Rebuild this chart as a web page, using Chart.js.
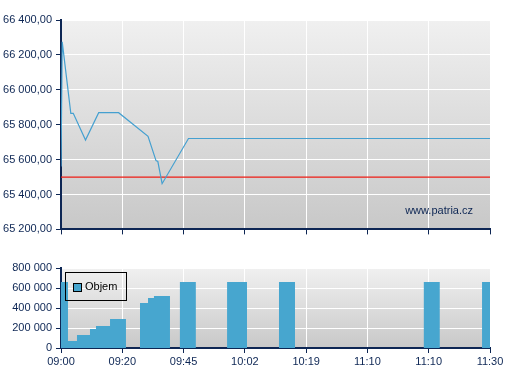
<!DOCTYPE html>
<html>
<head>
<meta charset="UTF-8">
<script src="https://cdn.jsdelivr.net/npm/chart.js"></script>
<style>
  body { margin: 0; background: #fff; }
  #wrap { position: relative; width: 507px; height: 380px; }
  #top { position: absolute; left: 0; top: 0; }
  #bottom { position: absolute; left: 0; top: 255px; }
</style>
</head>
<body>
<div id="wrap">
  <div id="top" style="width:507px;height:240px"><canvas id="priceChart"></canvas></div>
  <div id="bottom" style="width:507px;height:125px"><canvas id="volChart"></canvas></div>
</div>
<script>
// tick labels along the time axis (evenly spaced)
const xLabels = ['09:00', '09:20', '09:45', '10:02', '10:19', '11:10', '11:10', '11:30'];

// price line
const priceX = [0, 0.02, 0.16, 0.20, 0.40, 0.615, 0.94, 1.42, 1.55, 1.58, 1.65, 2.08, 7];
const priceY = [65560, 66275, 65865, 65865, 65712, 65869, 65869, 65733, 65594, 65589, 65462, 65721, 65721];
const prevClose = 65500;

// volume bars (start, end on the time axis)
const volStart = [0, 0.114, 0.261, 0.473, 0.571, 0.80, 1.289, 1.42, 1.517, 1.94, 2.71, 3.557, 5.92, 6.87];
const volEnd = [0.114, 0.261, 0.473, 0.571, 0.80, 1.06, 1.42, 1.517, 1.778, 2.20, 3.035, 3.818, 6.18, 7];
const volume = [660000, 70000, 130000, 190000, 220000, 290000, 450000, 500000, 520000, 660000, 660000, 660000, 660000, 660000];

const navy = '#0d2654';
const font = { family: 'Liberation Sans', size: 11 };

function fmt(v, dec) {
  let s = v.toFixed(dec).replace('.', ',');
  let parts = s.split(',');
  parts[0] = parts[0].replace(/\B(?=(\d{3})+(?!\d))/g, ' ');
  return parts.join(',');
}

// gray gradient behind the plot
const plotBg = {
  id: 'plotBg',
  beforeDraw(chart) {
    const a = chart.chartArea, ctx = chart.ctx;
    const g = ctx.createLinearGradient(0, a.top, 0, a.bottom);
    g.addColorStop(0, '#f0f0f0');
    g.addColorStop(1, '#c8c8c8');
    ctx.save();
    ctx.fillStyle = g;
    ctx.fillRect(a.left, a.top, a.right - a.left, a.bottom - a.top);
    ctx.restore();
  }
};

const watermark = {
  id: 'watermark',
  afterDatasetsDraw(chart) {
    const a = chart.chartArea, ctx = chart.ctx;
    ctx.save();
    ctx.font = '11px "Liberation Sans"';
    ctx.fillStyle = navy;
    ctx.textAlign = 'right';
    ctx.textBaseline = 'middle';
    ctx.fillText('www.patria.cz', a.right - 17, a.bottom - 18);
    ctx.restore();
  }
};

const boxLegend = {
  id: 'boxLegend',
  afterDraw(chart) {
    const ctx = chart.ctx, a = chart.chartArea;
    const ds = chart.data.datasets[0];
    ctx.save();
    ctx.strokeStyle = '#000';
    ctx.lineWidth = 1;
    ctx.strokeRect(a.left + 4.5, a.top + 4.5, 61, 28);
    ctx.fillStyle = ds.backgroundColor;
    ctx.fillRect(a.left + 12, a.top + 15, 8, 8);
    ctx.strokeRect(a.left + 12.5, a.top + 15.5, 8, 8);
    ctx.fillStyle = '#000';
    ctx.font = '11px "Liberation Sans"';
    ctx.textBaseline = 'middle';
    ctx.fillText(ds.label, a.left + 24, a.top + 19);
    ctx.restore();
  }
};

function xScale(showLabels, h) {
  return {
    type: 'linear', min: 0, max: 7,
    afterFit(s) { s.height = h; },
    ticks: { stepSize: 1, display: showLabels, color: navy, font: font, padding: 2, maxRotation: 0,
      callback: v => xLabels[v] },
    grid: { color: '#fff', lineWidth: 1, tickColor: navy, tickLength: 5 },
    border: { color: navy, width: 2 }
  };
}

const pricePts = priceX.map((x, i) => ({ x: x, y: priceY[i] }));

new Chart(document.getElementById('priceChart'), {
  type: 'line',
  data: {
    datasets: [
      { data: pricePts, borderColor: '#45a0d0', borderWidth: 1.2, pointRadius: 0, tension: 0 },
      { data: [{ x: 0, y: prevClose }, { x: 7, y: prevClose }], borderColor: '#ee1c14', borderWidth: 1.2, pointRadius: 0 }
    ]
  },
  options: {
    responsive: true, maintainAspectRatio: false, animation: false,
    layout: { padding: { top: 20, right: 17, left: 0, bottom: 0 } },
    plugins: { legend: { display: false }, tooltip: { enabled: false } },
    scales: {
      x: xScale(false, 9),
      y: {
        min: 65200, max: 66400,
        afterFit(s) { s.width = 61; },
        ticks: { stepSize: 200, color: navy, font: font, padding: 4, callback: v => fmt(v, 2) },
        grid: { color: '#fff', lineWidth: 1, tickColor: navy, tickLength: 5 },
        border: { color: navy, width: 2 }
      }
    }
  },
  plugins: [plotBg, watermark]
});

const volPts = [];
volume.forEach((v, i) => {
  volPts.push({ x: volStart[i], y: 0 }, { x: volStart[i], y: v }, { x: volEnd[i], y: v }, { x: volEnd[i], y: 0 });
});

new Chart(document.getElementById('volChart'), {
  type: 'line',
  data: {
    datasets: [
      { label: 'Objem', data: volPts, backgroundColor: '#47a6cf', borderWidth: 0, borderColor: 'rgba(0,0,0,0)',
        fill: 'origin', pointRadius: 0, tension: 0 }
    ]
  },
  options: {
    responsive: true, maintainAspectRatio: false, animation: false,
    layout: { padding: { top: 13, right: 17, left: 0, bottom: 0 } },
    plugins: { legend: { display: false }, tooltip: { enabled: false } },
    scales: {
      x: xScale(true, 32),
      y: {
        min: 0, max: 800000,
        afterFit(s) { s.width = 61; },
        ticks: { stepSize: 200000, color: navy, font: font, padding: 4, callback: v => fmt(v, 0) },
        grid: { color: '#fff', lineWidth: 1, tickColor: navy, tickLength: 5 },
        border: { color: navy, width: 2 }
      }
    }
  },
  plugins: [plotBg, boxLegend]
});
</script>
</body>
</html>
